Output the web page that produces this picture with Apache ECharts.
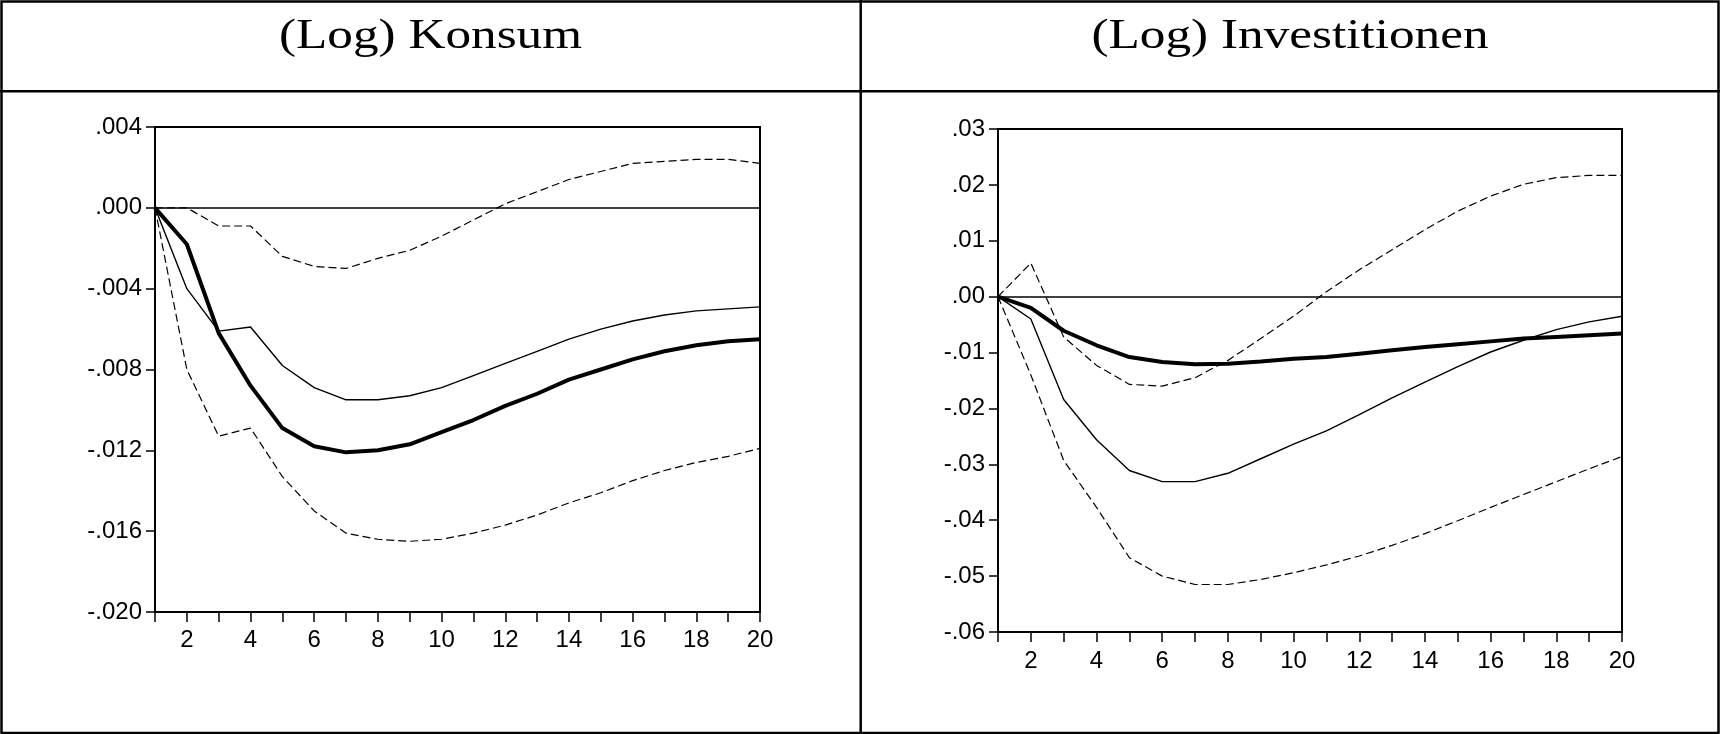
<!DOCTYPE html>
<html>
<head>
<meta charset="utf-8">
<script src="https://cdn.jsdelivr.net/npm/echarts@6/dist/echarts.min.js"></script>
<style>
  html, body { margin: 0; padding: 0; background: #fff; }
  #chart { width: 1720px; height: 734px; }
</style>
</head>
<body>
<div id="chart"></div>
<script>
// Impulse responses over 20 periods
const periods = [1, 2, 3, 4, 5, 6, 7, 8, 9, 10, 11, 12, 13, 14, 15, 16, 17, 18, 19, 20];
const xLabelEvery = 2;

const panelTitles = ['(Log) Konsum', '(Log) Investitionen'];

// (Log) Konsum
const konsumTicks = [0.004, 0.000, -0.004, -0.008, -0.012, -0.016, -0.020];
const konsumIrf   = [0, -0.0018, -0.0062, -0.0088, -0.0109, -0.0118, -0.0121, -0.0120, -0.0117, -0.0111, -0.0105, -0.0098, -0.0092, -0.0085, -0.0080, -0.0075, -0.0071, -0.0068, -0.0066, -0.0065];
const konsumAlt   = [0, -0.0040, -0.0061, -0.0059, -0.0078, -0.0089, -0.0095, -0.0095, -0.0093, -0.0089, -0.0083, -0.0077, -0.0071, -0.0065, -0.0060, -0.0056, -0.0053, -0.0051, -0.0050, -0.0049];
const konsumUpper = [0, 0.0000, -0.0009, -0.0009, -0.0024, -0.0029, -0.0030, -0.0025, -0.0021, -0.0014, -0.0006, 0.0002, 0.0008, 0.0014, 0.0018, 0.0022, 0.0023, 0.0024, 0.0024, 0.0022];
const konsumLower = [0, -0.0080, -0.0113, -0.0109, -0.0133, -0.0150, -0.0161, -0.0164, -0.0165, -0.0164, -0.0161, -0.0157, -0.0152, -0.0146, -0.0141, -0.0135, -0.0130, -0.0126, -0.0123, -0.0119];

// (Log) Investitionen
const invTicks  = [0.03, 0.02, 0.01, 0.00, -0.01, -0.02, -0.03, -0.04, -0.05, -0.06];
const invIrf    = [0, -0.0020, -0.0061, -0.0087, -0.0108, -0.0117, -0.0121, -0.0120, -0.0116, -0.0111, -0.0108, -0.0102, -0.0096, -0.0090, -0.0085, -0.0080, -0.0075, -0.0072, -0.0069, -0.0066];
const invAlt    = [0, -0.0040, -0.0184, -0.0256, -0.0311, -0.0331, -0.0331, -0.0316, -0.0290, -0.0264, -0.0240, -0.0211, -0.0181, -0.0153, -0.0125, -0.0099, -0.0078, -0.0059, -0.0045, -0.0035];
const invUpper  = [0, 0.0060, -0.0072, -0.0123, -0.0157, -0.0160, -0.0145, -0.0114, -0.0075, -0.0035, 0.0009, 0.0048, 0.0084, 0.0120, 0.0153, 0.0180, 0.0201, 0.0213, 0.0217, 0.0217];
const invLower  = [0, -0.0140, -0.0293, -0.0377, -0.0467, -0.0500, -0.0515, -0.0515, -0.0506, -0.0494, -0.0480, -0.0464, -0.0445, -0.0424, -0.0401, -0.0377, -0.0354, -0.0331, -0.0308, -0.0286];

const LABEL_FONT = '"Liberation Sans", Arial, sans-serif';
const TITLE_FONT = '"Liberation Serif", "Times New Roman", serif';

function pairs(values) {
  return values.map((v, i) => [periods[i], v]);
}

// ".004", "-.012" style labels
function decimalLabel(digits) {
  return function (v) {
    if (Math.abs(v) < 1e-12) v = 0;
    return v.toFixed(digits).replace('0.', '.');
  };
}

function xAxisFor(gridIndex, margin) {
  return {
    type: 'value', gridIndex: gridIndex,
    min: periods[0], max: periods[periods.length - 1], interval: 1,
    axisLine: { show: true, onZero: false, lineStyle: { color: '#000', width: 2 } },
    axisTick: { show: true, inside: false, length: 10, lineStyle: { color: '#000', width: 1.5 } },
    axisLabel: {
      margin: margin, color: '#000', fontFamily: LABEL_FONT, fontSize: 24,
      showMinLabel: true, showMaxLabel: true,
      formatter: v => (v % xLabelEvery === 0 ? String(v) : '')
    },
    splitLine: { show: false }
  };
}

function yAxisFor(gridIndex, ticks, digits) {
  const maxV = ticks[0], minV = ticks[ticks.length - 1];
  return {
    type: 'value', gridIndex: gridIndex,
    min: minV, max: maxV, interval: +(ticks[0] - ticks[1]).toFixed(6),
    axisLine: { show: true, onZero: false, lineStyle: { color: '#000', width: 2 } },
    axisTick: { show: true, inside: false, length: 9, lineStyle: { color: '#000', width: 1.5 } },
    axisLabel: { margin: 13, color: '#000', fontFamily: LABEL_FONT, fontSize: 24, formatter: decimalLabel(digits) },
    splitLine: { show: false }
  };
}

function panelSeries(idx, irf, alt, upper, lower) {
  const base = { type: 'line', xAxisIndex: idx, yAxisIndex: idx, symbol: 'none', silent: true };
  return [
    Object.assign({}, base, {
      data: pairs(upper),
      lineStyle: { color: '#000', width: 1.2, type: [8, 4] },
      markLine: {
        silent: true, symbol: ['none', 'none'], label: { show: false },
        lineStyle: { color: '#000', width: 1.5, type: 'solid' },
        data: [{ yAxis: 0 }]
      }
    }),
    Object.assign({}, base, { data: pairs(lower), lineStyle: { color: '#000', width: 1.2, type: [8, 4] } }),
    Object.assign({}, base, { data: pairs(alt), lineStyle: { color: '#000', width: 1.4 } }),
    Object.assign({}, base, { data: pairs(irf), lineStyle: { color: '#000', width: 4 }, z: 5 })
  ];
}

const chart = echarts.init(document.getElementById('chart'), null, { renderer: 'canvas' });

chart.setOption({
  animation: false,
  backgroundColor: '#fff',
  grid: [
    { left: 155, top: 127, width: 605, height: 485, show: true, borderColor: '#000', borderWidth: 2, backgroundColor: 'transparent' },
    { left: 998, top: 129, width: 624, height: 503, show: true, borderColor: '#000', borderWidth: 2, backgroundColor: 'transparent' }
  ],
  xAxis: [xAxisFor(0, 16), xAxisFor(1, 17)],
  yAxis: [yAxisFor(0, konsumTicks, 3), yAxisFor(1, invTicks, 2)],
  series: [].concat(
    panelSeries(0, konsumIrf, konsumAlt, konsumUpper, konsumLower),
    panelSeries(1, invIrf, invAlt, invUpper, invLower)
  ),
  graphic: [
    // table frame
    { type: 'rect', silent: true, shape: { x: 1.5, y: 1.5, width: 1717, height: 731.5 },
      style: { fill: 'none', stroke: '#000', lineWidth: 2.5 } },
    { type: 'line', silent: true, shape: { x1: 0, y1: 91.3, x2: 1720, y2: 91.3 },
      style: { stroke: '#000', lineWidth: 2.5 } },
    { type: 'line', silent: true, shape: { x1: 860.7, y1: 0, x2: 860.7, y2: 734 },
      style: { stroke: '#000', lineWidth: 2.5 } },
    // panel headings
    { type: 'text', silent: true, x: 430.5, y: 37, scaleX: 1.22,
      style: { text: panelTitles[0], fontFamily: TITLE_FONT, fontSize: 42, fill: '#000', align: 'center', verticalAlign: 'middle' } },
    { type: 'text', silent: true, x: 1290, y: 37, scaleX: 1.22,
      style: { text: panelTitles[1], fontFamily: TITLE_FONT, fontSize: 42, fill: '#000', align: 'center', verticalAlign: 'middle' } }
  ]
});
</script>
</body>
</html>
